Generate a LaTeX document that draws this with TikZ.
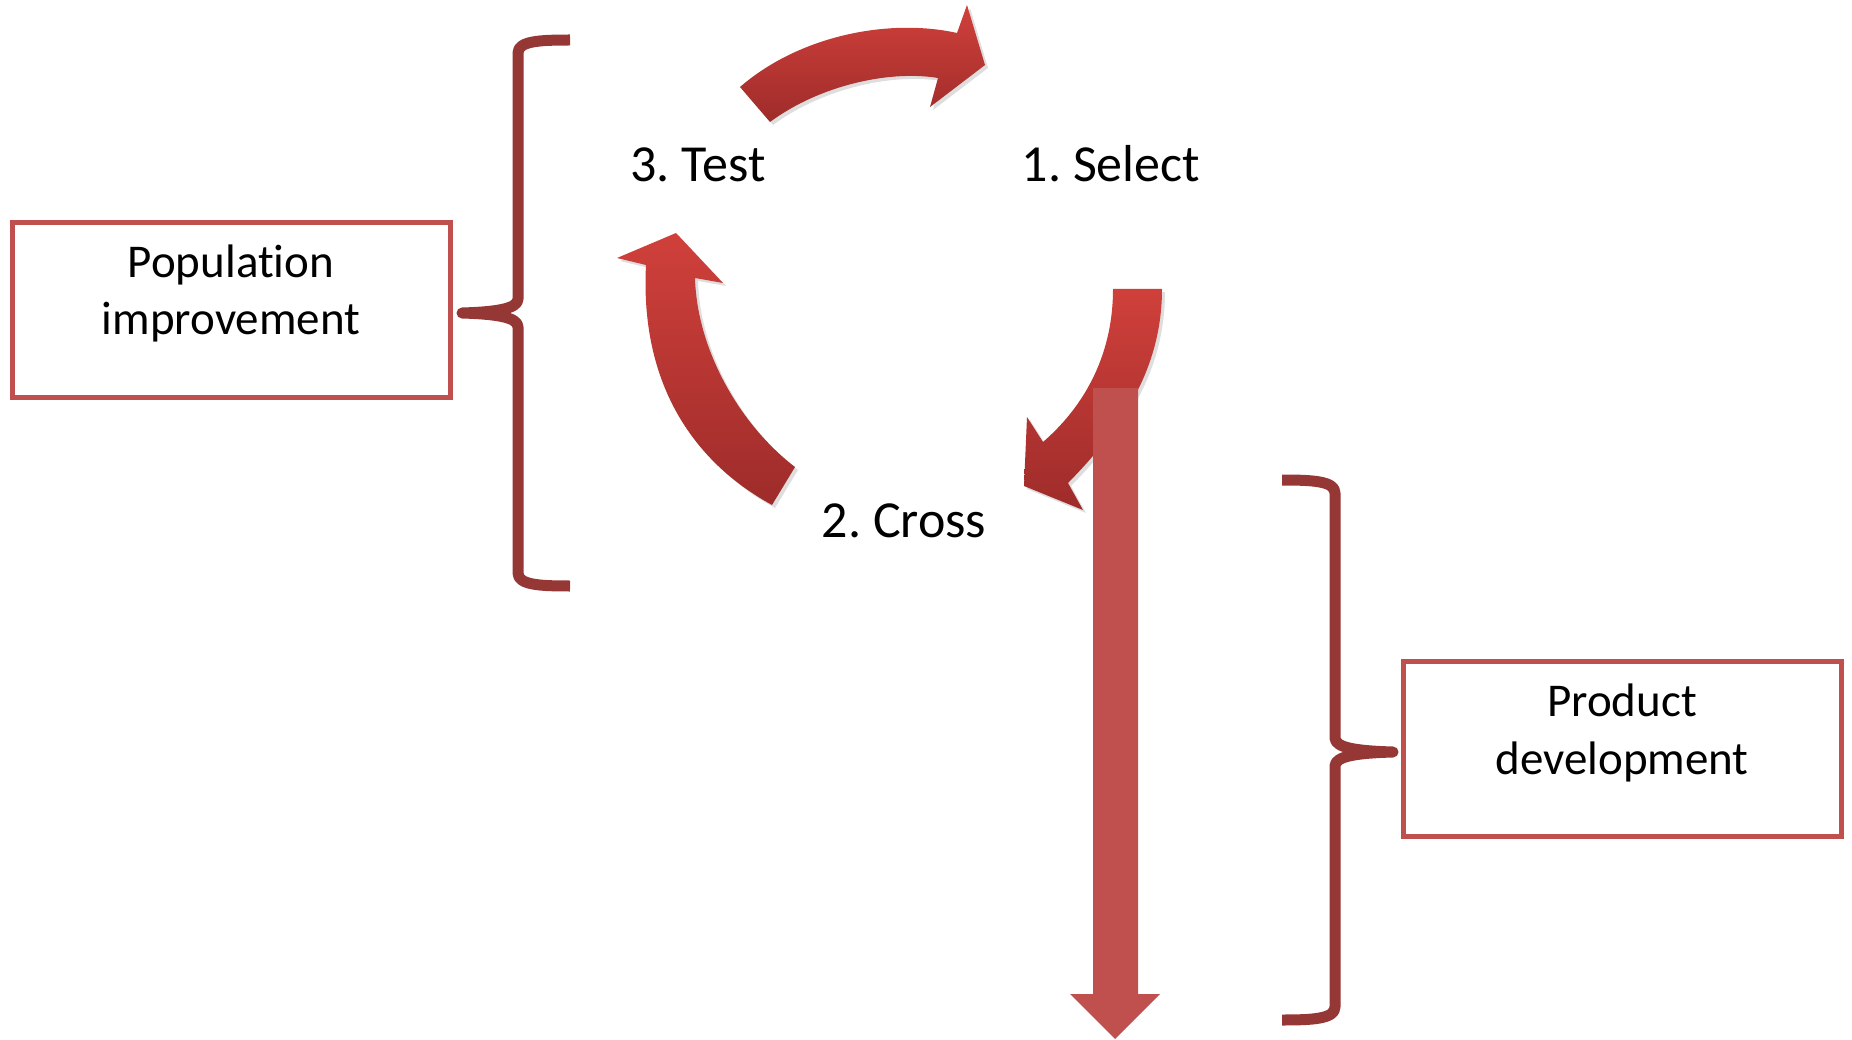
\documentclass[tikz,border=0pt]{standalone}
\usepackage{fontspec}
\setmainfont[Ligatures=NoCommon]{Carlito}
\frenchspacing

\definecolor{arrowtop}{RGB}{208,64,59}
\definecolor{arrowbot}{RGB}{158,44,42}
\definecolor{boxred}{RGB}{192,80,77}
\definecolor{bracered}{RGB}{149,55,53}

% outlines of the three curved block arrows of the cycle
\newcommand\cycArrowTop{(740,87) .. controls (800,35) and (890,18) .. (957,33)
  -- (967,5) -- (985,65) -- (930,107) -- (938,78)
  .. controls (890,70) and (820,85) .. (770,122) -- cycle}
\newcommand\cycArrowLeft{(772,505) .. controls (690,460) and (640,380) .. (646,265)
  -- (617,258) -- (676,233) -- (723,283) -- (695,278)
  .. controls (697,350) and (740,425) .. (795,467) -- cycle}
\newcommand\cycArrowRight{(1113,289) .. controls (1113,360) and (1080,410) .. (1043,442)
  -- (1027,417) -- (1024,486) -- (1083,510) -- (1068,483)
  .. controls (1120,430) and (1162,370) .. (1162,289) -- cycle}

\begin{document}
\begin{tikzpicture}[x=1pt,y=-1pt,
  steplabel/.style={font=\fontsize{52}{63}\selectfont, inner sep=0pt, anchor=base},
  boxtext/.style={font=\fontsize{47}{58}\selectfont, inner sep=0pt, anchor=base, align=center},
  framebox/.style={draw=boxred, line width=5pt, fill=white},
  bracestroke/.style={draw=bracered, line width=11pt, line join=round},
  blockshadow/.style={fill=black, opacity=0.13, shift={(3,3)}},
  blockarrow/.style={top color=arrowtop, bottom color=arrowbot, draw=none},
]
\useasboundingbox (0,0) rectangle (1852,1040);

% cycle arrows
\fill[blockshadow] \cycArrowTop;
\shade[blockarrow] \cycArrowTop;
\fill[blockshadow] \cycArrowLeft;
\shade[blockarrow] \cycArrowLeft;
\fill[blockshadow] \cycArrowRight;
\shade[blockarrow] \cycArrowRight;

% long downward arrow leaving the cycle
\fill[boxred] (1093,388) -- (1138,388) -- (1138,994) -- (1160,994)
  -- (1115,1039) -- (1070,994) -- (1093,994) -- cycle;

% step labels
\node[steplabel] (select) at (1111,182) {1. Select};
\node[steplabel] (cross) at (904,537) {2. Cross};
\node[steplabel] (test) at (698,182) {3. Test};

% boxes (the base anchor of a two-line node sits on its last line)
\draw[framebox] (12,223) rectangle (450,397);
\node[boxtext] (popimp) at (231,335) {Population\\improvement};
\draw[framebox] (1403,661) rectangle (1841,836);
\node[boxtext] (proddev) at (1622,774) {Product\\development};

% braces
\draw[bracestroke] (570,40) .. controls (540,40) and (518,41) .. (518,53)
  -- (518,299) .. controls (518,309) and (495,312) .. (462,313)
  .. controls (495,314) and (518,317) .. (518,327)
  -- (518,573) .. controls (518,585) and (540,586) .. (570,586);
\draw[bracestroke] (1282,480) .. controls (1312,480) and (1335,481) .. (1335,493)
  -- (1335,738) .. controls (1335,748) and (1358,751) .. (1393,752)
  .. controls (1358,753) and (1335,756) .. (1335,766)
  -- (1335,1007) .. controls (1335,1019) and (1312,1020) .. (1282,1020);
\end{tikzpicture}
\end{document}
